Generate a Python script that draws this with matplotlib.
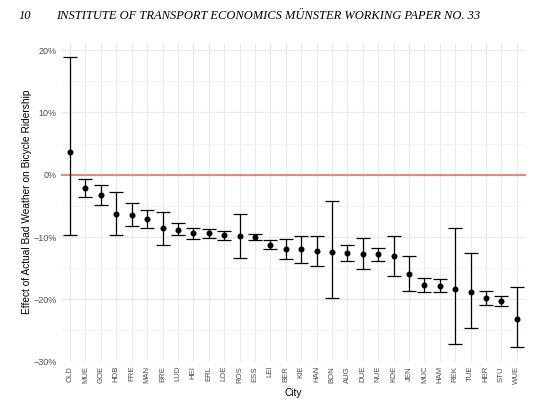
import numpy as np
import matplotlib.pyplot as plt
from matplotlib.ticker import FixedLocator

# city codes, point estimates and 95% interval (in %)
cities = ['OLD', 'MUE', 'GOE', 'HDB', 'FRE', 'MAN', 'BRE', 'LUD', 'HEI', 'ERL',
          'LOE', 'ROS', 'ESS', 'LEI', 'BER', 'KIE', 'HAN', 'BON', 'AUG', 'DUE',
          'NUE', 'KOE', 'JEN', 'MUC', 'HAM', 'REK', 'TUE', 'HER', 'STU', 'WUE']
est = [3.6, -2.15, -3.2, -6.3, -6.4, -7.1, -8.6, -8.8, -9.35, -9.35,
       -9.7, -9.9, -10.0, -11.3, -12.0, -12.0, -12.3, -12.4, -12.5, -12.7,
       -12.75, -13.1, -15.9, -17.7, -17.8, -18.3, -18.8, -19.8, -20.25, -23.1]
lower = [-9.7, -3.5, -4.8, -9.7, -8.2, -8.6, -11.2, -9.6, -10.3, -10.1,
         -10.4, -13.3, -10.4, -12.0, -13.6, -14.1, -14.7, -19.8, -13.8, -15.2,
         -13.8, -16.3, -18.65, -18.9, -18.8, -27.1, -24.6, -20.85, -21.1, -27.7]
upper = [18.9, -0.7, -1.66, -2.7, -4.6, -5.6, -6.0, -7.7, -8.5, -8.65,
         -9.0, -6.3, -9.45, -10.5, -10.3, -9.8, -9.85, -4.2, -11.2, -10.2,
         -11.8, -9.85, -13.1, -16.6, -16.8, -8.55, -12.5, -18.7, -19.45, -18.0]
yticks = [-30, -20, -10, 0, 10, 20]

est = np.array(est) / 100
lower = np.array(lower) / 100
upper = np.array(upper) / 100
x = np.arange(len(cities))

fig = plt.figure(figsize=(5.48, 4.13), dpi=100)
ax = fig.add_axes([0.111, 0.124, 0.849, 0.773])

ax.axhline(0, color='#f27a72', lw=1.3, zorder=2)
ax.errorbar(x, est, yerr=[est - lower, upper - est], fmt='o', color='black',
            ms=3.3, elinewidth=0.9, capsize=5, capthick=0.9, zorder=3)

ax.set_xlim(-0.6, len(cities) - 0.4)
span = upper.max() - lower.min()
ax.set_ylim(lower.min() - 0.05 * span, upper.max() + 0.05 * span)

ax.set_xticks(x)
ax.set_xticklabels(cities, rotation=90, fontsize=5.6, color='#4d4d4d',
                   family='Liberation Sans')
ax.set_yticks([v / 100 for v in yticks])
ax.set_yticklabels([('\u2212' if v < 0 else '') + '%d%%' % abs(v) for v in yticks],
                   fontsize=6.5, color='#4d4d4d', family='Liberation Sans')
ax.yaxis.set_minor_locator(FixedLocator([-0.25, -0.15, -0.05, 0.05, 0.15]))
ax.tick_params(length=0, which='both', pad=3)

ax.grid(True, which='major', color='#ebebeb', lw=0.8)
ax.grid(True, which='minor', axis='y', color='#f2f2f2', lw=0.5)
ax.set_axisbelow(True)
for s in ax.spines.values():
    s.set_visible(False)

ax.set_xlabel('City', fontsize=7.3, family='Liberation Sans', labelpad=3)
ax.set_ylabel('Effect of Actual Bad Weather on Bicycle Ridership', fontsize=7.3,
              family='Liberation Sans', labelpad=1)

fig.text(0.033, 0.962, '10', fontsize=9, style='italic', family='Liberation Serif',
         va='center')
fig.text(0.102, 0.962, 'INSTITUTE OF TRANSPORT ECONOMICS M\u00dcNSTER WORKING PAPER NO. 33',
         fontsize=9, style='italic', family='Liberation Serif', va='center')

fig.savefig('out.png', dpi=100)
